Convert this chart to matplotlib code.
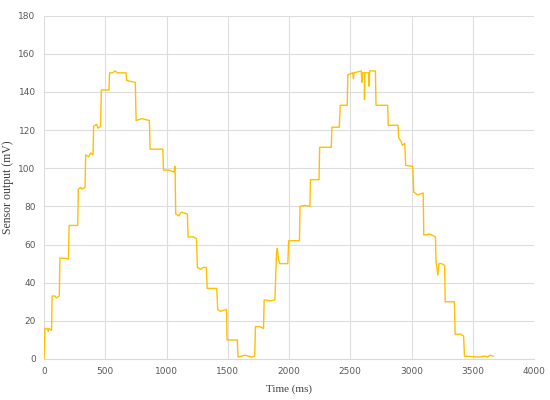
import matplotlib
matplotlib.use("Agg")
import matplotlib.pyplot as plt

# sensor trace (time in ms, output in mV)
time_ms = [0, 8, 25, 35, 40, 62, 66, 90, 100, 125, 130, 200, 205, 275, 280, 300, 310, 335,
           340, 365, 380, 400, 405, 430, 440, 462, 468, 500, 530, 535, 560, 580, 600, 640,
           670, 675, 745, 752, 800, 860, 866, 920, 970, 975, 1020, 1060, 1070, 1075, 1100,
           1120, 1170, 1176, 1220, 1245, 1252, 1280, 1300, 1325, 1332, 1380, 1410, 1418,
           1440, 1490, 1494, 1540, 1578, 1584, 1640, 1700, 1720, 1726, 1760, 1792, 1797,
           1850, 1885, 1898, 1904, 1915, 1925, 1990, 1997, 2040, 2085, 2090, 2130, 2170,
           2175, 2245, 2250, 2300, 2345, 2350, 2410, 2418, 2475, 2480, 2520, 2526, 2530,
           2590, 2594, 2598, 2614, 2616, 2620, 2650, 2654, 2658, 2705, 2710, 2780, 2805,
           2810, 2890, 2895, 2915, 2925, 2945, 2952, 3010, 3018, 3050, 3095, 3100, 3150,
           3195, 3200, 3215, 3225, 3245, 3270, 3275, 3350, 3356, 3400, 3425, 3432, 3550,
           3600, 3620, 3640, 3667]
output_mv = [0, 16, 16, 14.5, 16, 15, 33, 33, 32, 33, 53, 52.5, 70, 70, 89, 90, 89, 90,
             107, 106, 108, 107, 122, 123, 121, 122, 141, 141, 141, 150, 150, 151, 150, 150,
             150, 146, 145, 125, 126, 125, 110, 110, 110, 99, 99, 98, 101, 76, 75,
             77, 76, 64, 64, 63, 48, 47, 48, 48, 37, 37, 37, 26,
             25, 26, 10, 10, 10, 1, 2, 1, 1.5, 17, 17, 16, 31,
             30.5, 31, 56, 58, 52, 50, 50, 62, 62, 62, 80, 80.5, 80,
             94, 94, 111, 111, 111, 121.5, 121.5, 133, 133, 149, 150, 147, 150,
             151, 145, 150, 150, 136, 150, 150, 143, 151, 151, 133, 133, 133,
             122.5, 122.5, 116, 114, 112, 113, 101.5, 101, 87.5, 86, 87, 65, 65.5,
             64, 51, 44, 50, 50, 49, 30, 30, 13, 13, 12, 1.5, 1,
             1.5, 1, 2, 1.5]

x_ticks = [0, 500, 1000, 1500, 2000, 2500, 3000, 3500, 4000]
y_ticks = [0, 20, 40, 60, 80, 100, 120, 140, 160, 180]

fig = plt.figure(figsize=(5.5, 4), dpi=100)
ax = fig.add_axes([0.08, 0.1025, 0.891, 0.8585])

ax.plot(time_ms, output_mv, color="#FFC000", lw=1.0, zorder=3)

ax.set_xlim(0, 4000)
ax.set_ylim(0, 180)
ax.set_xticks(x_ticks)
ax.set_yticks(y_ticks)
ax.grid(True, color="#DDDDDD", lw=0.8)
ax.set_axisbelow(True)
for side in ["top", "right", "left"]:
    ax.spines[side].set_visible(False)
ax.spines["bottom"].set_color("#D9D9D9")
ax.tick_params(length=0, labelsize=6.5, labelcolor="#595959", pad=6)

serif = ["Liberation Serif", "DejaVu Serif"]
ax.set_xlabel("Time (ms)", family=serif, fontsize=8, color="#404040", labelpad=6)
ax.set_ylabel("Sensor output (mV)", family=serif, fontsize=8.5, color="#404040", labelpad=3)

fig.savefig("out.png", dpi=100)
